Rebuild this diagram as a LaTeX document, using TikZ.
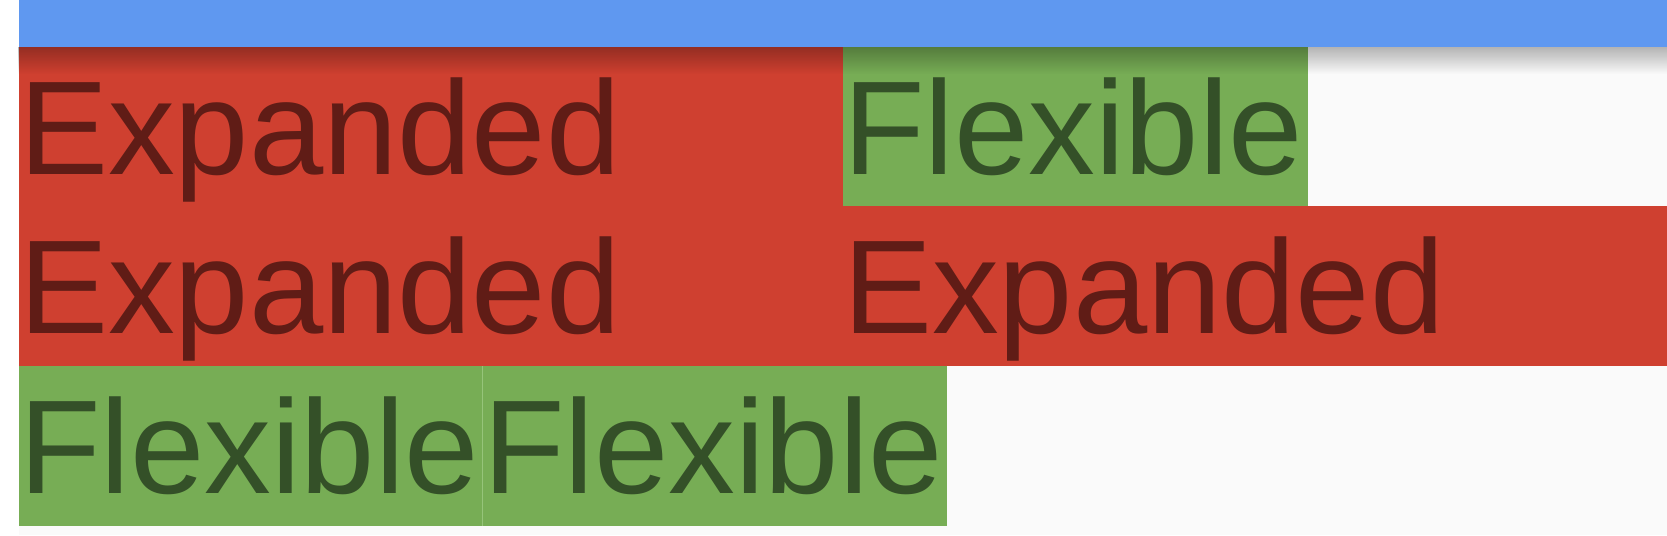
\documentclass[tikz,border=0pt]{standalone}
\usepackage{fontspec}
\setmainfont{Liberation Sans}
\usetikzlibrary{fadings}
\definecolor{barblue}{RGB}{95,152,240}
\definecolor{expred}{RGB}{207,64,48}
\definecolor{expredtext}{RGB}{96,28,22}
\definecolor{flexgreen}{RGB}{119,173,85}
\definecolor{flexgreentext}{RGB}{52,80,40}
\definecolor{seamgreen}{RGB}{150,196,122}
\definecolor{pagegray}{RGB}{250,250,250}
\tikzfading[name=barshadow, top color=transparent!72, bottom color=transparent!100]
\begin{document}
\begin{tikzpicture}
[x=0.02cm, y=-0.02cm,
 box/.style={anchor=north west, inner sep=0, outer sep=0},
 row/.style={box, text height=2.56cm, text depth=0.64cm, align=left,
   font=\fontsize{76}{90}\selectfont},
 expbox/.style={row, fill=expred, text=expredtext, text width=16.48cm},
 flexbox/.style={row, fill=flexgreen, text=flexgreentext, text width=9.28cm}]
\useasboundingbox (0,0) rectangle (1667,535);
\clip (0,0) rectangle (1667,535);
\fill [white] (0,0) rectangle (1667,535);
\fill [pagegray] (19,47) rectangle (1667,535);

% first row
\node (expA) at (19,47) [expbox] {Expanded};
\node (flexA) at (843,47) [flexbox, text width=9.3cm] {Flexible};

% second row
\node (expB) at (19,206) [expbox] {Expanded};
\node (expC) at (843,206) [expbox] {Expanded};

% third row
\node (flexB) at (19,366) [flexbox] {Flexible};
\node (flexC) at (483,366) [flexbox] {Flexible};
\draw [seamgreen, line width=0.02cm] (flexB.north east) -- (flexB.south east);

% app bar and its shadow
\fill [black, path fading=barshadow] (19,47) rectangle (1700,74);
\node (bar) at (19,0) [box, fill=barblue, minimum width=33.6cm, minimum height=0.94cm] {};
\end{tikzpicture}
\end{document}
